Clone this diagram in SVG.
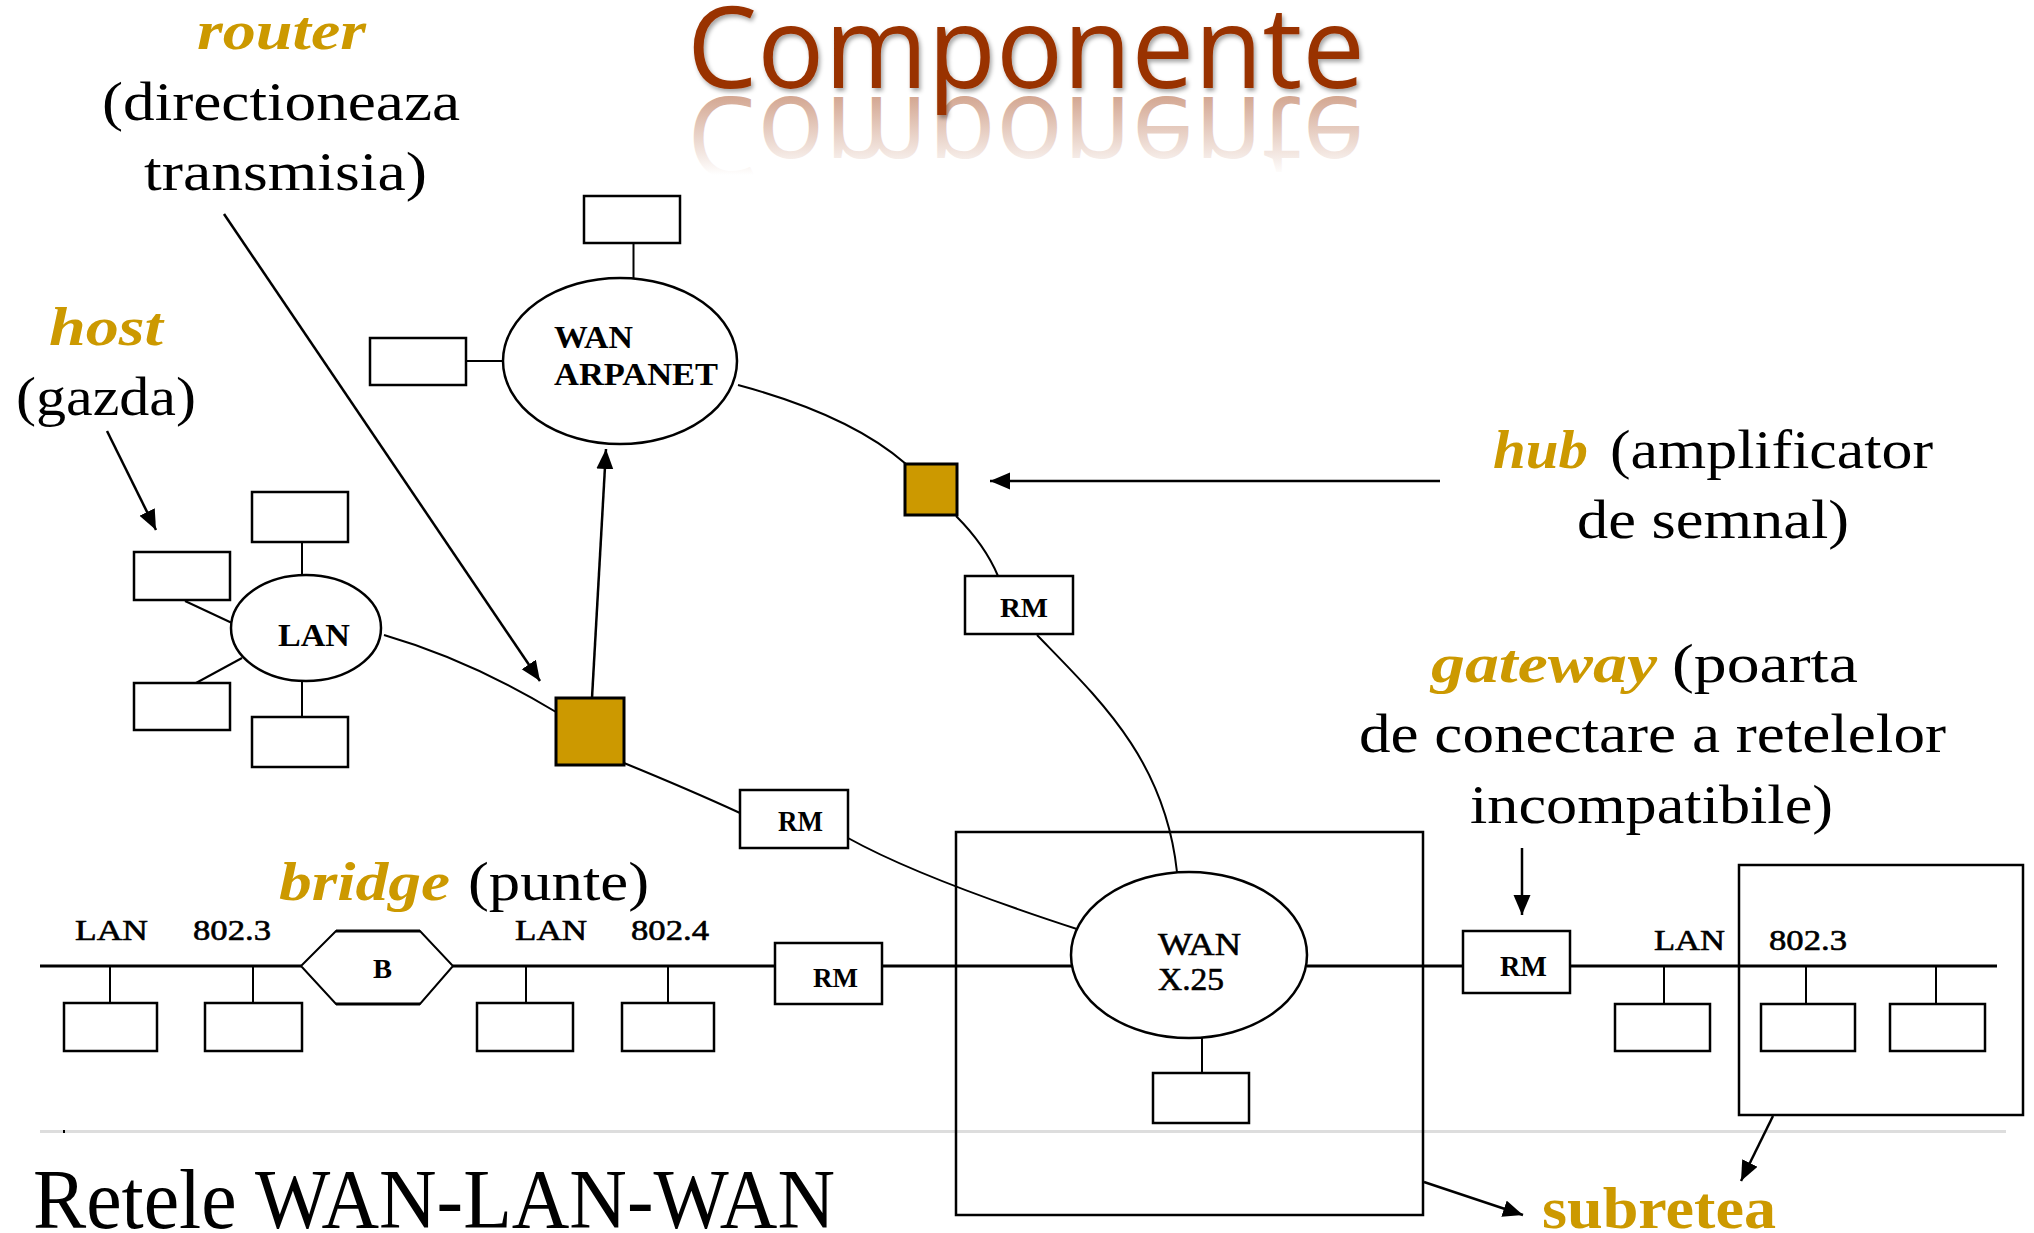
<svg xmlns="http://www.w3.org/2000/svg" xmlns:xlink="http://www.w3.org/1999/xlink" width="2034" height="1233" viewBox="0 0 2034 1233">
<style>
.lbl{font-family:"Liberation Serif","Times New Roman",serif;font-size:54px;fill:#000}
.gold{font-family:"Liberation Serif","Times New Roman",serif;font-size:54px;fill:#CC9900;font-weight:bold;font-style:italic}
.dt{font-family:"Liberation Serif","Times New Roman",serif;fill:#000;stroke:#000;stroke-width:0.6}
.db{font-family:"Liberation Serif","Times New Roman",serif;fill:#000;font-weight:bold}
.host{fill:#fff;stroke:#000;stroke-width:2.5}
.stem{stroke:#000;stroke-width:2;fill:none}
.bus{stroke:#000;stroke-width:3;fill:none}
.net{fill:#fff;stroke:#000;stroke-width:2.5}
.wire{stroke:#000;stroke-width:2;fill:none}
.arr{stroke:#000;stroke-width:2.5;fill:none;marker-end:url(#ah)}
.dev{fill:#CC9900;stroke:#000;stroke-width:3}
</style>
<defs>
<marker id="ah" markerUnits="userSpaceOnUse" markerWidth="22" markerHeight="18" refX="20" refY="8.5" orient="auto">
<path d="M0,0 L20,8.5 L0,17 z" fill="#000"/>
</marker>
<linearGradient id="refl" gradientUnits="userSpaceOnUse" x1="0" y1="88" x2="0" y2="10">
<stop offset="0" stop-color="#B0603A" stop-opacity="0.55"/>
<stop offset="1" stop-color="#B0603A" stop-opacity="0"/>
</linearGradient>
<filter id="sh" x="-5%" y="-20%" width="110%" height="140%">
<feDropShadow dx="2" dy="3" stdDeviation="2" flood-color="#000" flood-opacity="0.35"/>
</filter>
<text id="ct" x="687" y="88" font-family="'Open Sans','Noto Sans',sans-serif" font-size="114" textLength="678" lengthAdjust="spacingAndGlyphs">Componente</text>
</defs>

<g id="title">
<use href="#ct" xlink:href="#ct" fill="url(#refl)" transform="translate(0,185) scale(1,-1)"/>
<use href="#ct" xlink:href="#ct" fill="#993300" filter="url(#sh)"/>
</g>

<g id="connectors">
<line x1="40" y1="1131.5" x2="2006" y2="1131.5" stroke="#DDDDDD" stroke-width="3"/>
<rect x="63" y="1130" width="2" height="3" fill="#000"/>
<line class="stem" x1="633.5" y1="243" x2="633.5" y2="279"/>
<line class="stem" x1="466" y1="361" x2="504" y2="361"/>
<line class="stem" x1="302" y1="542" x2="302" y2="576"/>
<line class="stem" x1="302" y1="681" x2="302" y2="717"/>
<line class="wire" x1="185" y1="601" x2="232" y2="623"/>
<line class="wire" x1="196" y1="683" x2="242" y2="658"/>
<path class="wire" d="M384,635 Q470,660 556,712"/>
<path class="wire" d="M624,763 Q690,790 740,813"/>
<path class="wire" d="M848,838 Q920,878 1080,930"/>
<path class="wire" d="M738,385 Q850,415 906,464"/>
<path class="wire" d="M956,516 Q985,545 998,576"/>
<path class="wire" d="M1037,635 C1100,700 1165,760 1177,872"/>
<line class="stem" x1="1202" y1="1038" x2="1202" y2="1073"/>
<line class="bus" x1="40" y1="966" x2="301" y2="966"/>
<line class="bus" x1="453" y1="966" x2="775" y2="966"/>
<line class="bus" x1="882" y1="966" x2="1072" y2="966"/>
<line class="bus" x1="1307" y1="966" x2="1463" y2="966"/>
<line class="bus" x1="1570" y1="966" x2="1997" y2="966"/>
<line class="stem" x1="110" y1="966" x2="110" y2="1003"/>
<line class="stem" x1="253" y1="966" x2="253" y2="1003"/>
<line class="stem" x1="526" y1="966" x2="526" y2="1003"/>
<line class="stem" x1="668" y1="966" x2="668" y2="1003"/>
<line class="stem" x1="1664" y1="966" x2="1664" y2="1004"/>
<line class="stem" x1="1806" y1="966" x2="1806" y2="1004"/>
<line class="stem" x1="1936" y1="966" x2="1936" y2="1004"/>
<line class="arr" x1="224" y1="214" x2="540" y2="681"/>
<line class="arr" x1="107" y1="431" x2="156" y2="530"/>
<line class="arr" x1="592" y1="698" x2="606" y2="449"/>
<line class="arr" x1="1440" y1="481" x2="990" y2="481"/>
<line class="arr" x1="1522" y1="848" x2="1522" y2="915"/>
<line class="arr" x1="1424" y1="1182" x2="1523" y2="1215"/>
<line class="arr" x1="1773" y1="1116" x2="1741" y2="1181"/>
</g>

<g id="subnet-x25"><rect x="956" y="832" width="467" height="383" fill="none" stroke="#000" stroke-width="2.5"/></g>
<g id="subnet-lan"><rect x="1739" y="865" width="284" height="250" fill="none" stroke="#000" stroke-width="2.5"/></g>

<g id="wan-arpanet">
<ellipse class="net" cx="620" cy="361" rx="117" ry="83"/>
<text class="db" x="554" y="348" font-size="32" textLength="79" lengthAdjust="spacingAndGlyphs">WAN</text>
<text class="db" x="554" y="385" font-size="32" textLength="164" lengthAdjust="spacingAndGlyphs">ARPANET</text>
</g>
<g id="host-arpanet-top"><rect class="host" x="584" y="196" width="96" height="47"/></g>
<g id="host-arpanet-left"><rect class="host" x="370" y="338" width="96" height="47"/></g>

<g id="lan">
<ellipse class="net" cx="306" cy="628" rx="75" ry="53"/>
<text class="db" x="278" y="646" font-size="32" textLength="72" lengthAdjust="spacingAndGlyphs">LAN</text>
</g>
<g id="host-lan-top"><rect class="host" x="252" y="492" width="96" height="50"/></g>
<g id="host-lan-left1"><rect class="host" x="134" y="552" width="96" height="48"/></g>
<g id="host-lan-left2"><rect class="host" x="134" y="683" width="96" height="47"/></g>
<g id="host-lan-bottom"><rect class="host" x="252" y="717" width="96" height="50"/></g>

<g id="router"><rect class="dev" x="556" y="698" width="68" height="67"/></g>
<g id="hub"><rect class="dev" x="905" y="464" width="52" height="51" stroke-width="2.5"/></g>

<g id="rm-router">
<rect class="host" x="740" y="790" width="108" height="58"/>
<text class="db" x="778" y="831" font-size="30" textLength="45" lengthAdjust="spacingAndGlyphs">RM</text>
</g>
<g id="rm-hub">
<rect class="host" x="965" y="576" width="108" height="58"/>
<text class="db" x="1000" y="617" font-size="27" textLength="48" lengthAdjust="spacingAndGlyphs">RM</text>
</g>
<g id="rm-bus">
<rect class="host" x="775" y="943" width="107" height="61"/>
<text class="db" x="813" y="987" font-size="28" textLength="45" lengthAdjust="spacingAndGlyphs">RM</text>
</g>
<g id="rm-gateway">
<rect class="host" x="1463" y="931" width="107" height="62"/>
<text class="db" x="1500" y="976" font-size="29" textLength="47" lengthAdjust="spacingAndGlyphs">RM</text>
</g>

<g id="bridge">
<polygon points="301,966 336,931 420,931 453,966 420,1004 336,1004" fill="#fff" stroke="#000" stroke-width="2"/>
<line x1="336" y1="931" x2="420" y2="931" stroke="#000" stroke-width="3"/>
<line x1="336" y1="1004" x2="420" y2="1004" stroke="#000" stroke-width="3"/>
<text class="db" x="373" y="978" font-size="28" textLength="19" lengthAdjust="spacingAndGlyphs">B</text>
</g>

<g id="lan-8023-left">
<text class="dt" x="75" y="940" font-size="30" textLength="73" lengthAdjust="spacingAndGlyphs">LAN</text>
<text class="dt" x="193" y="940" font-size="30" textLength="78" lengthAdjust="spacingAndGlyphs">802.3</text>
</g>
<g id="lan-8024">
<text class="dt" x="515" y="940" font-size="30" textLength="72" lengthAdjust="spacingAndGlyphs">LAN</text>
<text class="dt" x="631" y="940" font-size="30" textLength="78" lengthAdjust="spacingAndGlyphs">802.4</text>
</g>
<g id="lan-8023-right">
<text class="dt" x="1654" y="950" font-size="30" textLength="71" lengthAdjust="spacingAndGlyphs">LAN</text>
<text class="dt" x="1769" y="950" font-size="30" textLength="78" lengthAdjust="spacingAndGlyphs">802.3</text>
</g>
<g id="host-bus-1"><rect class="host" x="64" y="1003" width="93" height="48"/></g>
<g id="host-bus-2"><rect class="host" x="205" y="1003" width="97" height="48"/></g>
<g id="host-bus-3"><rect class="host" x="477" y="1003" width="96" height="48"/></g>
<g id="host-bus-4"><rect class="host" x="622" y="1003" width="92" height="48"/></g>
<g id="host-right-1"><rect class="host" x="1615" y="1004" width="95" height="47"/></g>
<g id="host-right-2"><rect class="host" x="1761" y="1004" width="94" height="47"/></g>
<g id="host-right-3"><rect class="host" x="1890" y="1004" width="95" height="47"/></g>

<g id="wan-x25">
<ellipse class="net" cx="1189" cy="955" rx="118" ry="83"/>
<text class="dt" x="1158" y="955" font-size="32" textLength="83" lengthAdjust="spacingAndGlyphs">WAN</text>
<text class="dt" x="1158" y="990" font-size="32" textLength="66" lengthAdjust="spacingAndGlyphs">X.25</text>
</g>
<g id="host-x25"><rect class="host" x="1153" y="1073" width="96" height="50"/></g>

<g id="labels">
<text class="gold" x="197" y="49" textLength="169" lengthAdjust="spacingAndGlyphs">router</text>
<text class="lbl" x="102" y="120" textLength="358" lengthAdjust="spacingAndGlyphs">(directioneaza</text>
<text class="lbl" x="144" y="190" textLength="283" lengthAdjust="spacingAndGlyphs">transmisia)</text>
<text class="gold" x="49" y="345" textLength="114" lengthAdjust="spacingAndGlyphs">host</text>
<text class="lbl" x="16" y="415" textLength="180" lengthAdjust="spacingAndGlyphs">(gazda)</text>
<text class="gold" x="1493" y="468" textLength="95" lengthAdjust="spacingAndGlyphs">hub</text>
<text class="lbl" x="1610" y="468" textLength="323" lengthAdjust="spacingAndGlyphs">(amplificator</text>
<text class="lbl" x="1577" y="538" textLength="272" lengthAdjust="spacingAndGlyphs">de semnal)</text>
<text class="gold" x="1431" y="682" textLength="226" lengthAdjust="spacingAndGlyphs">gateway</text>
<text class="lbl" x="1672" y="682" textLength="186" lengthAdjust="spacingAndGlyphs">(poarta</text>
<text class="lbl" x="1359" y="752" textLength="587" lengthAdjust="spacingAndGlyphs">de conectare a retelelor</text>
<text class="lbl" x="1470" y="823" textLength="363" lengthAdjust="spacingAndGlyphs">incompatibile)</text>
<text class="gold" x="279" y="900" textLength="171" lengthAdjust="spacingAndGlyphs">bridge</text>
<text class="lbl" x="468" y="900" textLength="181" lengthAdjust="spacingAndGlyphs">(punte)</text>
<text x="1542" y="1228" font-family="'Liberation Serif','Times New Roman',serif" font-size="60" font-weight="bold" fill="#CC9900" textLength="234" lengthAdjust="spacingAndGlyphs">subretea</text>
<text x="33" y="1228" font-family="'Liberation Serif','Times New Roman',serif" font-size="84" fill="#000" textLength="802" lengthAdjust="spacingAndGlyphs">Retele WAN-LAN-WAN</text>
</g>
</svg>
